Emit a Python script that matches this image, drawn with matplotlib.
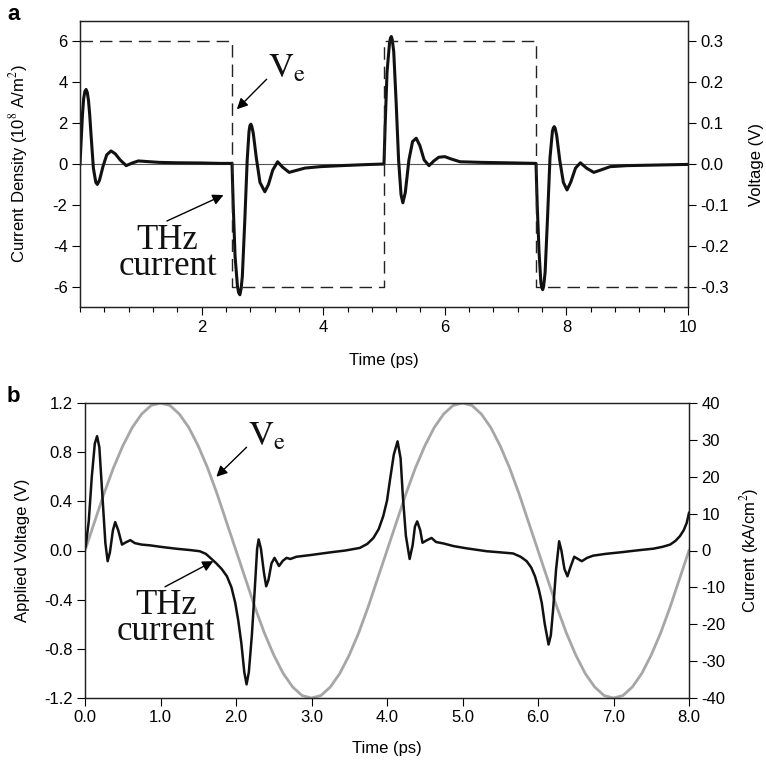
import numpy as np
import matplotlib.pyplot as plt

plt.rcParams['font.family'] = ['Liberation Sans', 'DejaVu Sans']
plt.rcParams['mathtext.fontset'] = 'stix'
plt.rcParams['axes.unicode_minus'] = False
plt.rcParams['font.size'] = 11

# panel a: square drive voltage (V)
ve_a_t = [0.0, 2.5, 5.0, 7.5, 10.0]
ve_a_v = [0.3, -0.3, 0.3, -0.3, -0.3]

# panel a: THz current density (1e8 A/m^2)
ja_t = [0.0, 0.02, 0.04, 0.06, 0.08, 0.1, 0.12, 0.14, 0.16, 0.18, 0.22, 0.26, 0.285, 0.32,
        0.38, 0.44, 0.51, 0.58, 0.66, 0.76, 0.86, 0.96, 1.1, 1.3, 1.6, 2.0, 2.3, 2.5,
        2.52, 2.55, 2.59, 2.61, 2.63, 2.65, 2.67, 2.71, 2.75, 2.78, 2.795, 2.81, 2.825,
        2.85, 2.9, 2.96, 3.04, 3.1, 3.17, 3.25, 3.33, 3.44, 3.55, 3.7, 3.95, 4.3, 4.7, 5.0,
        5.02, 5.05, 5.09, 5.105, 5.12, 5.135, 5.16, 5.2, 5.24, 5.28, 5.31, 5.35, 5.41,
        5.47, 5.53, 5.59, 5.66, 5.74, 5.82, 5.9, 6.0, 6.1, 6.25, 6.6, 7.0, 7.5,
        7.52, 7.55, 7.58, 7.595, 7.61, 7.625, 7.65, 7.69, 7.73, 7.77, 7.785, 7.8, 7.815,
        7.84, 7.89, 7.95, 8.01, 8.07, 8.15, 8.23, 8.33, 8.45, 8.56, 8.72, 9.0, 9.5, 10.0]
ja_j = [0.0, 1.2, 2.4, 3.2, 3.55, 3.65, 3.5, 3.1, 2.4, 1.5, -0.2, -0.9, -1.0, -0.8,
        -0.1, 0.45, 0.64, 0.5, 0.2, -0.08, 0.05, 0.15, 0.12, 0.08, 0.06, 0.05, 0.03, 0.03,
        -2.0, -4.5, -6.0, -6.3, -6.4, -6.1, -5.5, -2.8, 0.2, 1.6, 1.88, 1.95, 1.85,
        1.5, 0.3, -0.9, -1.36, -1.0, -0.3, 0.11, -0.15, -0.41, -0.32, -0.2, -0.13, -0.08,
        -0.03, 0.0,
        2.0, 4.5, 5.9, 6.15, 6.24, 6.1, 5.5, 3.0, 0.2, -1.5, -1.9, -1.4, 0.2,
        1.1, 1.26, 0.9, 0.2, -0.08, 0.15, 0.33, 0.36, 0.25, 0.11, 0.08, 0.06, 0.03,
        -2.0, -4.3, -5.8, -6.05, -6.15, -6.0, -5.3, -2.6, 0.3, 1.6, 1.76, 1.83, 1.75,
        1.4, 0.2, -0.9, -1.27, -0.9, -0.2, 0.06, -0.2, -0.41, -0.3, -0.13, -0.08, -0.05,
        -0.02]

# panel b: sinusoidal drive voltage (V), 0.125 ps steps
ve_b_t = [i * 0.125 for i in range(65)]
ve_b_quarter = [0.0, 0.23, 0.46, 0.67, 0.85, 1.0, 1.11, 1.18, 1.2,
                1.18, 1.11, 1.0, 0.85, 0.67, 0.46, 0.23]
ve_b_v = (ve_b_quarter + [-v for v in ve_b_quarter]) * 2 + [0.0]

# panel b: THz current (kA/cm^2)
jb_t = [0.0, 0.01, 0.05, 0.09, 0.13, 0.16, 0.19, 0.23, 0.27, 0.3, 0.33, 0.37, 0.4, 0.44,
        0.49, 0.54, 0.6, 0.66, 0.75, 0.86, 1.0, 1.2, 1.4, 1.52, 1.6, 1.66, 1.74, 1.81,
        1.88, 1.94, 1.99, 2.03, 2.07, 2.11, 2.14, 2.17, 2.21, 2.25, 2.28, 2.3, 2.33, 2.37,
        2.4, 2.43, 2.47, 2.51, 2.57, 2.62, 2.67, 2.72, 2.8, 3.0, 3.25, 3.45, 3.64, 3.74,
        3.82, 3.89, 3.95, 4.0, 4.04, 4.09, 4.14, 4.18, 4.21, 4.25, 4.3, 4.34, 4.37, 4.4,
        4.44, 4.47, 4.53, 4.59, 4.65, 4.75, 4.88, 5.05, 5.32, 5.5, 5.67, 5.77, 5.85, 5.91,
        5.96, 6.01, 6.05, 6.09, 6.14, 6.17, 6.2, 6.24, 6.28, 6.31, 6.35, 6.39, 6.43, 6.48,
        6.53, 6.58, 6.65, 6.73, 6.9, 7.09, 7.3, 7.53, 7.65, 7.75, 7.82, 7.88, 7.93, 7.97, 8.0]
jb_i = [0.5, 1.2, 8, 20, 29, 31.0, 28, 15, 2, -2.9, -0.5, 5.5, 7.7, 5.5,
        1.6, 2.2, 2.8, 2.0, 1.6, 1.4, 1.0, 0.5, 0.1, -0.2, -0.9, -2.0, -3.5, -5,
        -7, -10, -14.2, -19, -25, -33, -36.3, -33, -23, -10, 0.5, 3.0, 0.5, -6,
        -9.7, -8, -3.5, -2.0, -4.2, -2.8, -2.0, -2.3, -1.7, -1.2, -0.5, 0.0, 0.7, 1.8,
        3.4, 5.8, 9.3, 13.5, 19.2, 26, 29.6, 25, 14.7, 4, -2.3, 1.5, 6.5, 7.9,
        5.5, 2.1, 2.8, 3.4, 2.3, 1.9, 1.2, 0.6, -0.2, -0.5, -0.8, -1.7, -2.9, -4.6,
        -7, -10.5, -14.2, -20, -25.5, -23, -16, -5, 2.5, 0, -5, -7, -4.5, -1.7,
        -2.3, -2.9, -2.0, -1.4, -0.9, -0.5, 0.0, 0.5, 1.0, 1.6, 2.6, 3.9, 5.5, 7.5, 10.2]

W, H = 766, 761
fig = plt.figure(figsize=(W / 100, H / 100), dpi=100)

def box(l, t, r, b):
    return [l / W, 1 - b / H, (r - l) / W, (b - t) / H]

def style(ax):
    ax.tick_params(direction='out', length=6, width=0.8, labelsize=12, pad=3)
    ax.tick_params(which='minor', direction='out', length=3.5, width=0.8)
    for s in ax.spines.values():
        s.set_linewidth(0.9)
        s.set_color('#222222')

serif = dict(family='Liberation Serif', fontsize=25, color='#111111')
arrow = dict(arrowstyle='-|>', color='black', lw=1.0, mutation_scale=16,
             shrinkA=0, shrinkB=0)

# ---------------- panel a ----------------
ax = fig.add_axes(box(80, 21, 688, 307))
ax.axhline(0, color='#555555', lw=0.8)
ax.plot(ja_t, ja_j, color='#111111', lw=2.2)
ax.set_xlim(0, 10)
ax.set_ylim(-7, 7)
ax.set_xticks([2, 4, 6, 8, 10])
ax.set_xticks(np.arange(0, 10.01, 0.4), minor=True)
ax.set_yticks([-6, -4, -2, 0, 2, 4, 6])
ax.set_xlabel('Time (ps)', fontsize=12, labelpad=13)
ax.set_ylabel('Current Density (10$^8$ A/m$^2$)', fontsize=12, labelpad=16)
style(ax)

ax2 = ax.twinx()
ax2.plot(ve_a_t, ve_a_v, color='#222222', lw=1.0, drawstyle='steps-post',
         dashes=(9, 5))
ax2.set_ylim(-0.35, 0.35)
ax2.set_yticks([-0.3, -0.2, -0.1, 0.0, 0.1, 0.2, 0.3])
ax2.set_yticklabels(['-0.3', '-0.2', '-0.1', '0.0', '0.1', '0.2', '0.3'])
ax2.set_ylabel('Voltage (V)', fontsize=12, labelpad=14)
style(ax2)

ax.annotate('', xy=(2.58, 2.68), xytext=(3.07, 4.15), arrowprops=arrow)
ax.text(3.09, 4.26, r'$\mathrm{V_e}$', ha='left', va='baseline', **serif)
ax.annotate('', xy=(2.36, -1.52), xytext=(1.43, -2.79), arrowprops=arrow)
ax.text(1.44, -5.44, 'THz\ncurrent', ha='center', va='baseline',
        multialignment='center', linespacing=0.74, **serif)

fig.text(7 / W, 1 - 20 / H, 'a', fontsize=16, fontweight='bold', va='baseline')

# ---------------- panel b ----------------
bx = fig.add_axes(box(85, 403, 689, 698))
bx.plot(ve_b_t, ve_b_v, color='#a6a6a6', lw=2.0)
bx.set_xlim(0, 8)
bx.set_ylim(-1.2, 1.2)
bx.set_xticks(np.arange(0, 8.01, 1.0))
bx.set_xticklabels(['%.1f' % v for v in np.arange(0, 8.01, 1.0)])
bx.set_yticks([-1.2, -0.8, -0.4, 0.0, 0.4, 0.8, 1.2])
bx.set_yticklabels(['-1.2', '-0.8', '-0.4', '0.0', '0.4', '0.8', '1.2'])
bx.set_xlabel('Time (ps)', fontsize=12, labelpad=11)
bx.set_ylabel('Applied Voltage (V)', fontsize=12, labelpad=10)
style(bx)

bx2 = bx.twinx()
bx2.plot(jb_t, jb_i, color='#111111', lw=1.8)
bx2.set_ylim(-40, 40)
bx2.set_yticks(np.arange(-40, 41, 10))
bx2.set_ylabel('Current (kA/cm$^2$)', fontsize=12, labelpad=9)
style(bx2)

bx.annotate('', xy=(1.74, 0.60), xytext=(2.14, 0.84), arrowprops=arrow)
bx.text(2.16, 0.854, r'$\mathrm{V_e}$', ha='left', va='baseline', **serif)
bx.annotate('', xy=(1.70, -0.087), xytext=(1.06, -0.295), arrowprops=arrow)
bx.text(1.07, -0.73, 'THz\ncurrent', ha='center', va='baseline',
        multialignment='center', linespacing=0.74, **serif)

fig.text(7 / W, 1 - 402 / H, 'b', fontsize=16, fontweight='bold', va='baseline')

fig.savefig('out.png', dpi=100)
